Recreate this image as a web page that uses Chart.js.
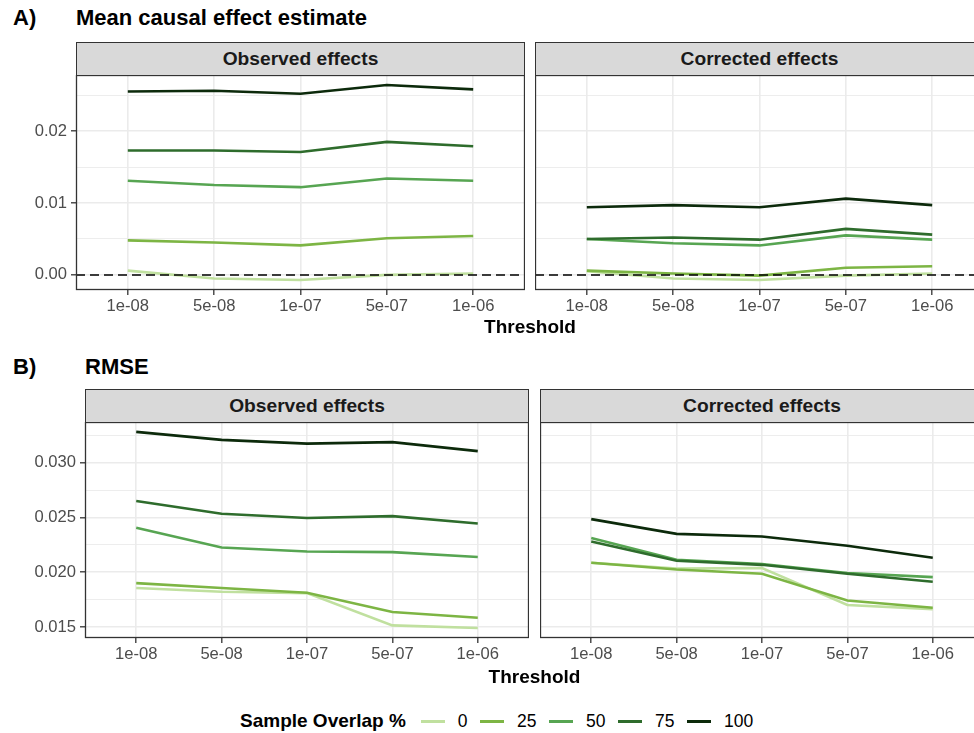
<!DOCTYPE html>
<html>
<head>
<meta charset="utf-8">
<script src="https://cdn.jsdelivr.net/npm/chart.js@4.4.1/dist/chart.umd.min.js"></script>
<style>
  html, body { margin: 0; padding: 0; background: #fff; overflow: hidden; }
  #page { position: relative; width: 1000px; height: 733px; font-family: "Liberation Sans", Arial, sans-serif; }
  .abs { position: absolute; }
  canvas { position: absolute; }
  .title { font-weight: bold; font-size: 22px; line-height: 22px; color: #000; white-space: nowrap; }
  .strip { box-sizing: border-box; background: #d9d9d9; border: 1px solid #333;
           display: flex; align-items: center; justify-content: center;
           font-weight: bold; font-size: 19.2px; color: #1a1a1a; }
  .axtitle { font-weight: bold; font-size: 19px; line-height: 19px; text-align: center; color: #000; }
  #legend { display: flex; align-items: center; height: 20px; white-space: nowrap; }
  #legend .ltitle { font-weight: bold; font-size: 19px; margin-right: 15px; }
  #legend .key { width: 24px; height: 3px; margin-right: 13px; }
  #legend .lab { font-size: 17.5px; margin-right: 12.5px; }
</style>
</head>
<body>
<div id="page">
  <div class="abs title" style="left:13px; top:7px;">A)</div>
  <div class="abs title" style="left:76px; top:7px;">Mean causal effect estimate</div>
  <div class="abs strip" style="left:76px; top:42px; width:449px; height:34px;">Observed effects</div>
  <div class="abs strip" style="left:535px; top:42px; width:449px; height:34px;">Corrected effects</div>
  <canvas id="aObs" width="525" height="255" style="left:0px; top:75px;"></canvas>
  <canvas id="aCor" width="449" height="255" style="left:535px; top:75px;"></canvas>
  <div class="abs axtitle" style="left:76px; top:317px; width:908px;">Threshold</div>

  <div class="abs title" style="left:13px; top:356px;">B)</div>
  <div class="abs title" style="left:85px; top:356px;">RMSE</div>
  <div class="abs strip" style="left:85px; top:389px; width:444px; height:34px;">Observed effects</div>
  <div class="abs strip" style="left:540px; top:389px; width:444px; height:34px;">Corrected effects</div>
  <canvas id="bObs" width="529" height="256" style="left:0px; top:422px;"></canvas>
  <canvas id="bCor" width="444" height="256" style="left:540px; top:422px;"></canvas>
  <div class="abs axtitle" style="left:85px; top:667px; width:899px;">Threshold</div>

  <div class="abs" id="legend" style="left:240px; top:711px;"></div>
</div>
<script>
const thresholds = ["1e-08", "5e-08", "1e-07", "5e-07", "1e-06"];
const overlaps = ["0", "25", "50", "75", "100"];
const overlapColors = ["#c0e09f", "#7db544", "#57a552", "#2e6c2c", "#0c2a0b"];

// rows follow overlaps: 0, 25, 50, 75, 100
const meanObserved = [
    [0.0006, -0.0005, -0.0007, 0.0000, 0.0002],
    [0.0048, 0.0045, 0.0041, 0.0051, 0.0054],
    [0.0131, 0.0125, 0.0122, 0.0134, 0.0131],
    [0.0173, 0.0173, 0.0171, 0.0185, 0.0179],
    [0.0255, 0.0256, 0.0252, 0.0264, 0.0258]
];
const meanCorrected = [
    [0.0005, -0.0005, -0.0007, -0.0001, 0.0002],
    [0.0006, 0.0002, -0.0001, 0.0010, 0.0012],
    [0.0050, 0.0044, 0.0041, 0.0055, 0.0049],
    [0.0050, 0.0052, 0.0049, 0.0064, 0.0056],
    [0.0094, 0.0097, 0.0094, 0.0106, 0.0097]
];
const rmseObserved = [
    [0.01856, 0.01822, 0.01810, 0.01515, 0.01491],
    [0.01901, 0.01856, 0.01813, 0.01637, 0.01585],
    [0.02406, 0.02226, 0.02190, 0.02184, 0.02139],
    [0.02650, 0.02534, 0.02495, 0.02513, 0.02445],
    [0.03282, 0.03209, 0.03175, 0.03188, 0.03106]
];
const rmseCorrected = [
    [0.02087, 0.02035, 0.02038, 0.01701, 0.01664],
    [0.02087, 0.02026, 0.01986, 0.01743, 0.01676],
    [0.02312, 0.02114, 0.02075, 0.01993, 0.01956],
    [0.02281, 0.02105, 0.02068, 0.01986, 0.01913],
    [0.02485, 0.02351, 0.02327, 0.02242, 0.02132]
];

const meanTicks = [0, 0.01, 0.02];
const meanMinor = [0.005, 0.015, 0.025];
const rmseTicks = [0.015, 0.020, 0.025, 0.030];
const rmseMinor = [0.0175, 0.0225, 0.0275, 0.0325];

const FONT = "'Liberation Sans', Arial, sans-serif";

// box round each panel
const panelBorder = {
    id: "panelBorder",
    afterDraw(chart) {
        const a = chart.chartArea, ctx = chart.ctx;
        ctx.save();
        ctx.strokeStyle = "#333333";
        ctx.lineWidth = 1.3;
        ctx.strokeRect(a.left + 0.5, a.top + 0.5, a.right - a.left - 1, a.bottom - a.top - 1);
        ctx.restore();
    }
};

// dashed line at y = 0
const zeroLine = {
    id: "zeroLine",
    afterDatasetsDraw(chart, args, opts) {
        if (!opts.show) return;
        const a = chart.chartArea, ctx = chart.ctx;
        const y = chart.scales.y.getPixelForValue(0);
        ctx.save();
        ctx.strokeStyle = "#000";
        ctx.lineWidth = 1.5;
        ctx.setLineDash([9, 5]);
        ctx.beginPath();
        ctx.moveTo(a.left, y);
        ctx.lineTo(a.right, y);
        ctx.stroke();
        ctx.restore();
    }
};

function makePanel(id, rows, yMin, yMax, majors, minors, decimals, yWidth, showZero) {
    const showY = yWidth > 0;
    const isMinor = (ctx) => ctx.tick && minors.includes(ctx.tick.value);
    const datasets = rows.map((vals, i) => ({
        label: overlaps[i],
        data: vals.map((v, k) => ({ x: k, y: v })),
        borderColor: overlapColors[i],
        borderWidth: 2.6,
        pointRadius: 0,
        tension: 0,
        order: rows.length - 1 - i
    }));
    return new Chart(document.getElementById(id), {
        type: "line",
        data: { datasets: datasets },
        options: {
            responsive: false,
            animation: false,
            devicePixelRatio: 1,
            layout: { padding: 0 },
            plugins: {
                legend: { display: false },
                tooltip: { enabled: false },
                zeroLine: { show: showZero }
            },
            scales: {
                x: {
                    type: "linear",
                    min: -0.6,
                    max: 4.6,
                    afterBuildTicks: (s) => { s.ticks = thresholds.map((t, i) => ({ value: i })); },
                    afterFit: (s) => { s.height = 40; s.paddingLeft = 0; s.paddingRight = 0; },
                    ticks: {
                        color: "#4d4d4d",
                        font: { family: FONT, size: 16.6 },
                        padding: 1,
                        autoSkip: false,
                        maxRotation: 0,
                        callback: (v) => thresholds[v]
                    },
                    grid: { color: "#ebebeb", lineWidth: 1.6, tickLength: 5, tickColor: "#333", tickWidth: 1.3 },
                    border: { display: false }
                },
                y: {
                    type: "linear",
                    min: yMin,
                    max: yMax,
                    afterBuildTicks: (s) => {
                        s.ticks = majors.concat(minors).sort((a, b) => a - b).map(v => ({ value: v }));
                    },
                    afterFit: (s) => { s.width = yWidth; s.paddingTop = 0; s.paddingBottom = 0; },
                    ticks: {
                        display: showY,
                        color: "#4d4d4d",
                        font: { family: FONT, size: 16.6 },
                        padding: 4,
                        autoSkip: false,
                        callback: (v) => majors.includes(v) ? v.toFixed(decimals) : ""
                    },
                    grid: {
                        color: "#ebebeb",
                        lineWidth: (ctx) => isMinor(ctx) ? 0.9 : 1.6,
                        drawTicks: showY,
                        tickLength: 5,
                        tickColor: (ctx) => isMinor(ctx) ? "rgba(0,0,0,0)" : "#333",
                        tickWidth: 1.3
                    },
                    border: { display: false }
                }
            }
        },
        plugins: [panelBorder, zeroLine]
    });
}

makePanel("aObs", meanObserved, -0.0021, 0.0278, meanTicks, meanMinor, 2, 76, true);
makePanel("aCor", meanCorrected, -0.0021, 0.0278, meanTicks, meanMinor, 2, 0, true);
makePanel("bObs", rmseObserved, 0.0140, 0.03372, rmseTicks, rmseMinor, 3, 85, false);
makePanel("bCor", rmseCorrected, 0.0140, 0.03372, rmseTicks, rmseMinor, 3, 0, false);

// legend
const legend = document.getElementById("legend");
let html = '<span class="ltitle">Sample Overlap %</span>';
overlaps.forEach((o, i) => {
    html += '<span class="key" style="background:' + overlapColors[i] + '"></span><span class="lab">' + o + '</span>';
});
legend.innerHTML = html;
</script>
</body>
</html>
